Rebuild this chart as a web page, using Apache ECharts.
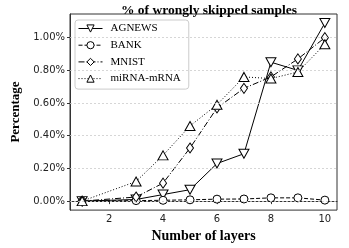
<!DOCTYPE html>
<html>
<head>
<meta charset="utf-8">
<script src="https://cdn.jsdelivr.net/npm/echarts@6/dist/echarts.min.js"></script>
<style>
  html, body { margin: 0; padding: 0; background: #fff; }
  #chart { width: 349px; height: 248px; }
</style>
</head>
<body>
<div id="chart"></div>
<script>
// number of layers on x
const layers = [1, 3, 4, 5, 6, 7, 8, 9, 10];
// percentage of wrongly skipped samples
const agnews = [0, 0.01, 0.04, 0.07, 0.23, 0.29, 0.85, 0.80, 1.09];
const bank = [0, 0.003, 0.005, 0.008, 0.012, 0.013, 0.02, 0.02, 0.006];
const mnist = [0, 0.025, 0.11, 0.325, 0.57, 0.69, 0.76, 0.87, 1.00];
const mirna = [0, 0.12, 0.28, 0.46, 0.59, 0.76, 0.75, 0.79, 0.96];
const xTicks = [2, 4, 6, 8, 10];
const yTicks = [0, 0.2, 0.4, 0.6, 0.8, 1.0];

const serif = '"Liberation Serif", "DejaVu Serif", serif';
const sans = '"DejaVu Sans", sans-serif';

function pairs(vals) {
    return layers.map((x, i) => [x, vals[i]]);
}

function makeSeries(name, vals, symbol, size, rotate, dash) {
    return {
        name: name,
        type: 'line',
        data: pairs(vals),
        symbol: symbol,
        symbolSize: size,
        symbolRotate: rotate,
        showAllSymbol: true,
        lineStyle: { color: '#000', width: 1, type: dash },
        itemStyle: { color: '#fff', borderColor: '#000', borderWidth: 1 },
        z: 3
    };
}

const chart = echarts.init(document.getElementById('chart'));

const option = {
    animation: false,
    title: {
        text: '% of wrongly skipped samples',
        left: 204,
        textAlign: 'center',
        top: -1,
        textStyle: { fontFamily: serif, fontWeight: 'bold', fontSize: 13.5, color: '#000' }
    },
    legend: {
        orient: 'vertical',
        left: 75,
        top: 20,
        itemWidth: 24,
        itemHeight: 9,
        itemGap: 5.7,
        padding: [3, 8, 5, 3],
        backgroundColor: '#fff',
        borderColor: '#ccc',
        borderWidth: 1,
        borderRadius: 3,
        itemStyle: { borderWidth: 1 },
        lineStyle: { width: 1 },
        textStyle: { fontFamily: serif, fontSize: 11, color: '#000', padding: [0, 0, 0, 3] },
        data: ['AGNEWS', 'BANK', 'MNIST', 'miRNA-mRNA']
    },
    grid: {
        left: 70,
        right: 12,
        top: 14,
        bottom: 35,
        show: true,
        borderColor: '#333',
        borderWidth: 1,
        backgroundColor: 'transparent'
    },
    xAxis: {
        type: 'value',
        min: 0.55,
        max: 10.45,
        name: 'Number of layers',
        nameLocation: 'middle',
        nameGap: 18,
        nameTextStyle: { fontFamily: serif, fontWeight: 'bold', fontSize: 14, color: '#000' },
        axisLine: { show: true, lineStyle: { color: '#333' } },
        axisTick: { show: true, length: 3, customValues: xTicks, lineStyle: { color: '#333' } },
        axisLabel: { customValues: xTicks, fontFamily: sans, fontSize: 10, color: '#222', margin: 4 },
        splitLine: { show: false }
    },
    yAxis: {
        type: 'value',
        min: -0.055,
        max: 1.145,
        name: 'Percentage',
        nameLocation: 'middle',
        nameGap: 29,
        nameTextStyle: { fontFamily: serif, fontWeight: 'bold', fontSize: 13, color: '#000' },
        axisLine: { show: true, lineStyle: { color: '#333' } },
        axisTick: { show: true, length: 3, customValues: yTicks, lineStyle: { color: '#333' } },
        axisLabel: {
            customValues: yTicks,
            fontFamily: sans, fontSize: 10, color: '#222', margin: 5,
            formatter: v => v.toFixed(2) + '%'
        },
        splitLine: { show: false }
    },
    series: [
        // dotted grid lines at y ticks
        {
            type: 'line',
            data: [],
            silent: true,
            markLine: {
                silent: true,
                symbol: 'none',
                label: { show: false },
                lineStyle: { color: '#ccc', width: 0.8, type: [2, 2] },
                data: yTicks.map(v => ({ yAxis: v }))
            },
            z: 1
        },
        makeSeries('AGNEWS', agnews, 'triangle', [10, 9], 180, 'solid'),
        makeSeries('BANK', bank, 'circle', 8, 0, [4, 2]),
        makeSeries('MNIST', mnist, 'diamond', [7, 10], 0, [6, 2, 1, 2]),
        makeSeries('miRNA-mRNA', mirna, 'triangle', [10, 9], 0, [1, 2])
    ]
};

chart.setOption(option);
</script>
</body>
</html>
